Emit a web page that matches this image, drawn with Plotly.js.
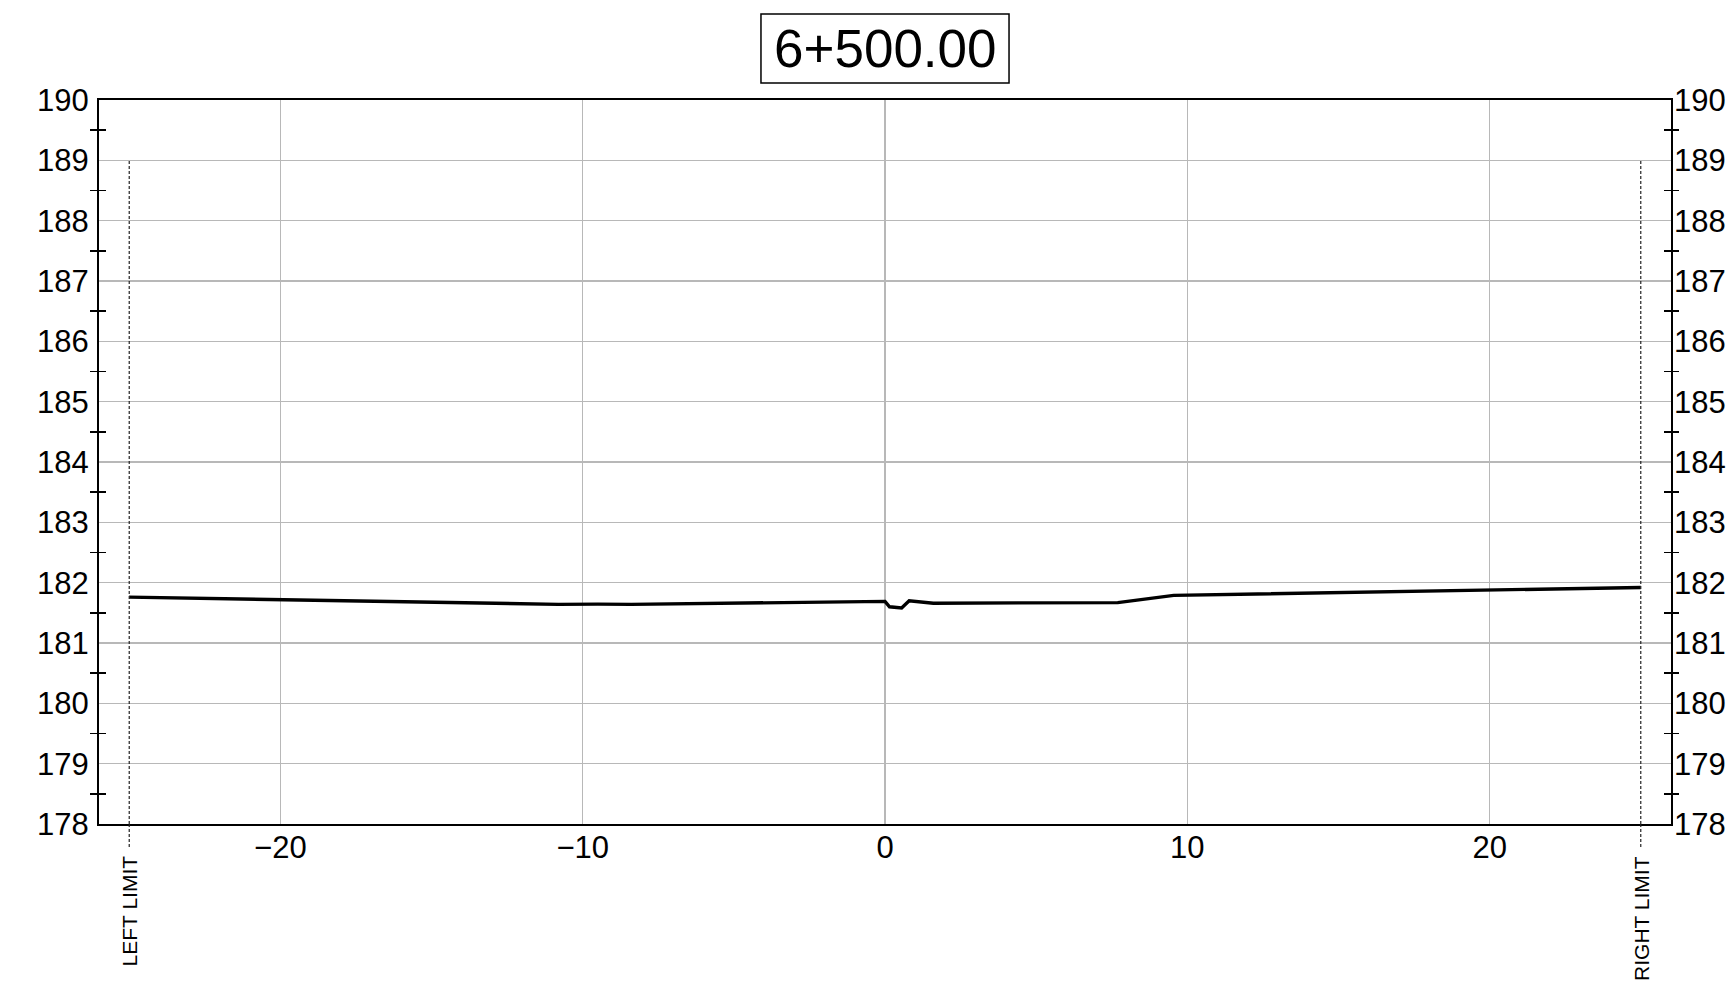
<!DOCTYPE html>
<html>
<head>
<meta charset="utf-8">
<script src="https://cdn.plot.ly/plotly-3.0.1.min.js"></script>
<style>html,body{margin:0;padding:0;background:#fff;}#chart{width:1729px;height:981px;}</style>
</head>
<body>
<div id="chart"></div>
<script>
// Cross-section station title
const stationLabel = '6+500.00';
// Ground profile: offset (m) and elevation (m)
const offsets = [-25, -10.8, -9.5, -8.4, 0, 0.15, 0.55, 0.8, 1.6, 7.7, 9.55, 25];
const elevations = [181.76, 181.64, 181.645, 181.64, 181.69, 181.60, 181.58, 181.70, 181.66, 181.67, 181.79, 181.92];
// Limits
const limitOffsets = [-25, 25];
const limitLabels = ['LEFT LIMIT', 'RIGHT LIMIT'];
const limitTop = 189;
// Axis ranges / ticks
const xRange = [-26, 26];
const yRange = [178, 190];
const xTickStep = 10;
const yTickStep = 1;
const yMinorStep = 0.5;

const FONT = 'Liberation Sans, Arial, sans-serif';
const GRID = '#b8b8b8';

const traces = [
  {x: offsets, y: elevations, type: 'scatter', mode: 'lines',
   line: {color: '#000', width: 3.4}, hoverinfo: 'x+y', showlegend: false},
  {x: [], y: [], yaxis: 'y2', type: 'scatter', showlegend: false},
  {x: [], y: [], yaxis: 'y3', type: 'scatter', showlegend: false},
  {x: [], y: [], yaxis: 'y4', type: 'scatter', showlegend: false}
];

function minorTicks(dir) {
  return {dtick: yMinorStep, ticks: dir, ticklen: 7, tickwidth: 1.5, tickcolor: '#000', showgrid: false};
}

const baseY = {range: yRange, dtick: yTickStep, tick0: yRange[0], zeroline: false,
  tickfont: {family: FONT, size: 31, color: '#000'}, fixedrange: true};

const shapes = [];
const annotations = [];
limitOffsets.forEach((lx, i) => {
  shapes.push({type: 'line', xref: 'x', yref: 'y', x0: lx, x1: lx, y0: yRange[0], y1: limitTop,
    line: {color: '#222', width: 1.2, dash: '3px,2px'}});
  shapes.push({type: 'line', xref: 'x', yref: 'paper', x0: lx, x1: lx, y0: 0, y1: -0.032,
    line: {color: '#222', width: 1.2, dash: '3px,2px'}});
  annotations.push({xref: 'x', yref: 'paper', x: lx, y: -0.041, xanchor: 'center', yanchor: 'top',
    text: limitLabels[i], textangle: -90, showarrow: false,
    font: {family: FONT, size: 21, color: '#000'}});
});

// Title box
shapes.push({type: 'rect', xref: 'paper', yref: 'paper', x0: 0.4211, x1: 0.5789, y0: 1.0235, y1: 1.1188,
  line: {color: '#000', width: 1.5}, fillcolor: 'rgba(0,0,0,0)'});
annotations.push({xref: 'paper', yref: 'paper', x: 0.5, y: 1.0715, xanchor: 'center', yanchor: 'middle',
  text: stationLabel, showarrow: false, font: {family: FONT, size: 53, color: '#000'}});

const layout = {
  width: 1729, height: 981,
  margin: {l: 99, r: 58, t: 100, b: 157},
  paper_bgcolor: '#fff', plot_bgcolor: '#fff',
  showlegend: false,
  font: {family: FONT, color: '#000'},
  xaxis: {range: xRange, dtick: xTickStep, tick0: 0, showgrid: true, gridcolor: GRID, gridwidth: 1.6,
    zeroline: false, ticks: '', showline: true, mirror: true, linecolor: '#000', linewidth: 2,
    ticklabelstandoff: -5,
    tickfont: {family: FONT, size: 31, color: '#000'}, fixedrange: true},
  yaxis: Object.assign({}, baseY, {side: 'left', showgrid: true, gridcolor: GRID, gridwidth: 1.6,
    ticks: '', showline: true, mirror: true, linecolor: '#000', linewidth: 2, ticklabelstandoff: 2,
    minor: minorTicks('outside')}),
  yaxis2: Object.assign({}, baseY, {overlaying: 'y', side: 'right', anchor: 'x', showgrid: false,
    ticks: '', showline: false, ticklabelstandoff: 2, minor: minorTicks('outside')}),
  yaxis3: Object.assign({}, baseY, {overlaying: 'y', side: 'left', anchor: 'x', showgrid: false,
    ticks: '', showline: false, showticklabels: false, minor: minorTicks('inside')}),
  yaxis4: Object.assign({}, baseY, {overlaying: 'y', side: 'right', anchor: 'x', showgrid: false,
    ticks: '', showline: false, showticklabels: false, minor: minorTicks('inside')}),
  shapes: shapes,
  annotations: annotations
};

Plotly.newPlot('chart', traces, layout, {displayModeBar: false, staticPlot: true});
</script>
</body>
</html>
